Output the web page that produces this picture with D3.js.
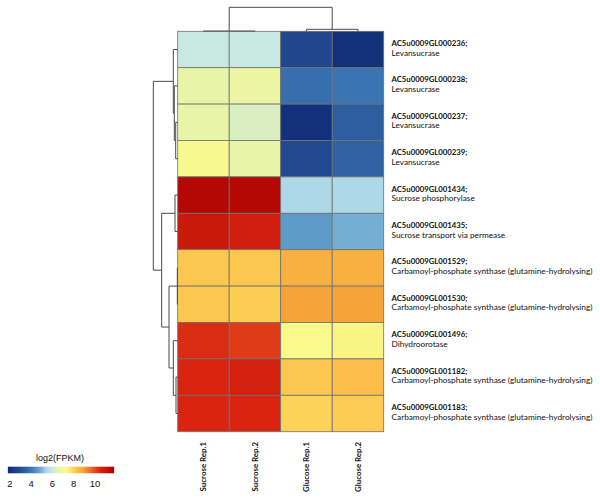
<!DOCTYPE html>
<html><head><meta charset="utf-8">
<script src="https://cdn.jsdelivr.net/npm/d3@7"></script>
<style>body{margin:0;background:#fff}svg{display:block}</style>
</head><body>
<svg id="chart" width="600" height="500"></svg>
<script>
// ---------- data ----------
const geneIds = ["AC5u0009GL000236;","AC5u0009GL000238;","AC5u0009GL000237;","AC5u0009GL000239;",
  "AC5u0009GL001434;","AC5u0009GL001435;","AC5u0009GL001529;","AC5u0009GL001530;",
  "AC5u0009GL001496;","AC5u0009GL001182;","AC5u0009GL001183;"];
const geneNames = ["Levansucrase","Levansucrase","Levansucrase","Levansucrase",
  "Sucrose phosphorylase","Sucrose transport via permease",
  "Carbamoyl-phosphate synthase (glutamine-hydrolysing)","Carbamoyl-phosphate synthase (glutamine-hydrolysing)",
  "Dihydroorotase","Carbamoyl-phosphate synthase (glutamine-hydrolysing)","Carbamoyl-phosphate synthase (glutamine-hydrolysing)"];
const samples = ["Sucrose Rep.1","Sucrose Rep.2","Glucose Rep.1","Glucose Rep.2"];
const sucroseRep1 = [5.9, 6.6, 6.6, 7.2, 11.5, 10.9, 8.2, 8.2, 10.4, 10.5, 10.5];
const sucroseRep2 = [5.9, 6.7, 6.3, 6.6, 11.5, 10.7, 8.2, 8.1, 10.2, 10.6, 10.5];
const glucoseRep1 = [2.8, 3.8, 2.0, 2.9, 5.4, 4.6, 8.7, 8.9, 7.3, 8.2, 8.0];
const glucoseRep2 = [2.0, 3.9, 3.4, 3.5, 5.4, 4.9, 8.7, 8.9, 7.4, 8.4, 8.1];
const legendTicks = [2, 4, 6, 8, 10];
const legendTitle = "log2(FPKM)";
// dendrograms: [left, right, mergeHeight]; leaves are row/column indices
const rowTree = [[0, [1, [2, 3, 2.0], 3.4], 4.4],
                 [[4, 5, 2.7], [[6, 7, 0.4], [8, [9, 10, 1.7], 4.4], 8.7], 16.0], 24.4];
const colTree = [[0, 1, 0.3], [2, 3, 2.0], 24.0];

// ---------- layout ----------
const svg = d3.select("#chart");
const hmLeft = 177.7, hmRight = 383.7, hmTop = 31.3, hmBottom = 431.7;
const columns = [sucroseRep1, sucroseRep2, glucoseRep1, glucoseRep2];

const x = d3.scaleBand().domain(d3.range(samples.length)).range([hmLeft, hmRight]);
const y = d3.scaleBand().domain(d3.range(geneIds.length)).range([hmTop, hmBottom]);

const color = d3.scaleLinear()
  .domain([1.8, 3.0, 4.0, 4.8, 5.4, 5.9, 6.6, 7.3, 8.1, 8.8, 9.6, 10.5, 11.8])
  .range(["#0f2a78","#244c92","#3c78b4","#6aa6cf","#aed8e8","#c8e8e2","#e8f4a8",
          "#fafa8c","#fdcc52","#f7ab3e","#ee6a28","#d82410","#a80000"])
  .clamp(true);

// ---------- heatmap ----------
const cells = [];
columns.forEach((col, j) => col.forEach((v, i) => cells.push({i, j, v})));
svg.append("g").selectAll("rect").data(cells).join("rect")
  .attr("x", d => x(d.j)).attr("y", d => y(d.i))
  .attr("width", x.bandwidth()).attr("height", y.bandwidth())
  .attr("fill", d => color(d.v))
  .attr("stroke", "#707070").attr("stroke-width", 0.8);

// ---------- dendrograms ----------
function toNode(t) {
  if (typeof t === "number") return {leaf: t, h: 0};
  return {h: t[2], children: [toNode(t[0]), toNode(t[1])]};
}
function drawDendro(tree, posOf, hScale, horizontal) {
  const root = d3.hierarchy(toNode(tree));
  root.eachAfter(n => {
    n.pos = n.children ? d3.mean(n.children, c => c.pos) : posOf(n.data.leaf);
  });
  const segs = [];
  root.each(n => {
    if (!n.children) return;
    const hp = hScale(n.data.h);
    segs.push([hp, n.children[0].pos, hp, n.children[1].pos]);
    n.children.forEach(c => segs.push([hScale(c.data.h), c.pos, hp, c.pos]));
  });
  const g = svg.append("g").attr("stroke", "#4a4a4a").attr("stroke-width", 1).attr("fill", "none");
  g.selectAll("line").data(segs).join("line")
    .attr("x1", d => horizontal ? d[0] : d[1])
    .attr("y1", d => horizontal ? d[1] : d[0])
    .attr("x2", d => horizontal ? d[2] : d[3])
    .attr("y2", d => horizontal ? d[3] : d[2]);
}
const rowH = d3.scaleLinear().domain([0, 24.4]).range([hmLeft, 153.3]);
drawDendro(rowTree, i => y(i) + y.bandwidth() / 2, rowH, true);
const colH = d3.scaleLinear().domain([0, 24.0]).range([hmTop, 7.3]);
drawDendro(colTree, j => x(j) + x.bandwidth() / 2, colH, false);

// fit a text selection's font size so its widest element has the target width
function fitWidth(sel, target) {
  let w = 0;
  sel.each(function () { w = Math.max(w, this.getComputedTextLength()); });
  const fs = parseFloat(sel.attr("font-size"));
  sel.attr("font-size", (fs * target / w).toFixed(2));
}

// ---------- row labels ----------
const font = "Lato, 'Open Sans', sans-serif";
const lab = svg.append("g").attr("font-family", font).attr("fill", "#111");
const ids = lab.selectAll("text.id").data(geneIds).join("text").attr("class", "id")
  .attr("x", 391.5).attr("y", (d, i) => y(i) + 14.6)
  .attr("font-size", 9).attr("font-weight", "bold").text(d => d);
fitWidth(ids, 76);
const nms = lab.selectAll("text.nm").data(geneNames).join("text").attr("class", "nm")
  .attr("x", 391.5).attr("y", (d, i) => y(i) + 24.2)
  .attr("font-size", 9).text(d => d);
fitWidth(nms, 201);

// ---------- column labels ----------
const cl = svg.append("g").selectAll("text").data(samples).join("text")
  .attr("transform", (d, j) => `translate(${x(j) + x.bandwidth() / 2},442) rotate(-90)`)
  .attr("text-anchor", "end").attr("dy", "0.35em")
  .attr("font-family", font).attr("font-weight", "bold").attr("font-size", 9)
  .attr("fill", "#111").text(d => d);
fitWidth(cl, 50);

// ---------- legend ----------
const legX = d3.scaleLinear().domain([2, 10]).range([10, 95]);
const defs = svg.append("defs");
const grad = defs.append("linearGradient").attr("id", "lg");
const [l0, l1] = [1.8, 11.8];
d3.range(0, 1.0001, 0.02).forEach(t => {
  grad.append("stop").attr("offset", t).attr("stop-color", color(l0 + t * (l1 - l0)));
});
svg.append("rect").attr("x", legX(l0)).attr("y", 466.7)
  .attr("width", legX(l1) - legX(l0)).attr("height", 6.6).attr("fill", "url(#lg)");
svg.append("text").attr("x", 60).attr("y", 460.5)
  .attr("text-anchor", "middle").attr("font-family", "'Liberation Sans', Arial, sans-serif")
  .attr("font-size", 9).attr("fill", "#111").text(legendTitle);
svg.append("g").selectAll("text").data(legendTicks).join("text")
  .attr("x", d => legX(d)).attr("y", 487)
  .attr("text-anchor", "middle").attr("font-family", "'Liberation Sans', Arial, sans-serif")
  .attr("font-size", 9.5).attr("fill", "#111").text(d => d);
</script>
</body></html>
